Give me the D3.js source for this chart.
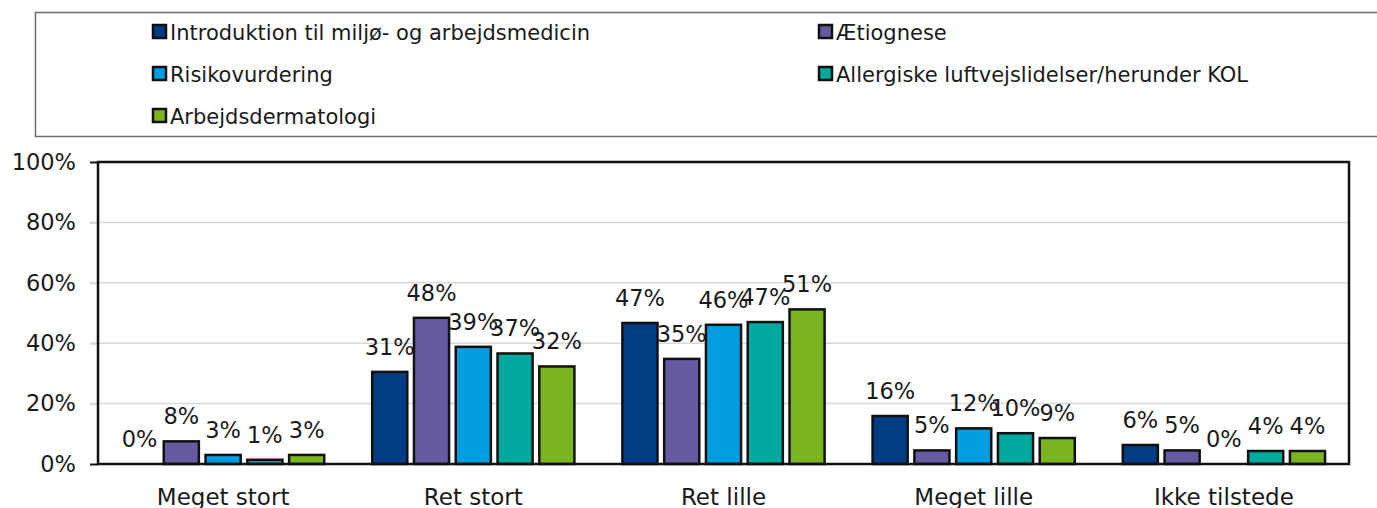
<!DOCTYPE html>
<html>
<head>
<meta charset="utf-8">
<script src="https://cdn.jsdelivr.net/npm/d3@7"></script>
<style>
  body { margin: 0; background: #fff; }
  svg text { font-family: "DejaVu Sans", sans-serif; fill: #1a1a1a; }
</style>
</head>
<body>
<div id="chart"></div>
<script>
// ------------------------- data
var categories = ["Meget stort", "Ret stort", "Ret lille", "Meget lille", "Ikke tilstede"];
var seriesNames = ["Introduktion til miljø- og arbejdsmedicin", "Ætiognese", "Risikovurdering",
    "Allergiske luftvejslidelser/herunder KOL", "Arbejdsdermatologi"];
var introduktion = [0, 30.5, 46.7, 15.9, 6.3];
var aetiognese = [7.5, 48.4, 34.8, 4.5, 4.5];
var risikovurdering = [3, 38.8, 46.1, 11.8, 0];
var allergiske = [1.4, 36.6, 47.0, 10.2, 4.3];
var dermatologi = [3, 32.3, 51.2, 8.6, 4.3];
var yTicks = [0, 20, 40, 60, 80, 100];

var seriesValues = [introduktion, aetiognese, risikovurdering, allergiske, dermatologi];
var colors = ["#003d85", "#665aa0", "#009ee0", "#00a99d", "#7ab41f"];

var svgWidth = 1377, svgHeight = 508;
var plotLeft = 98, plotRight = 1349, plotTop = 162, plotBottom = 464;

var svg = d3.select("#chart").append("svg")
    .attr("width", svgWidth)
    .attr("height", svgHeight);

// legend box
svg.append("rect")
    .attr("x", 35.5).attr("y", 12.5)
    .attr("width", 1400).attr("height", 124)
    .attr("fill", "none")
    .attr("stroke", "#6e6e6e")
    .attr("stroke-width", 1.5);

var legendPos = [[153, 32], [819, 32], [153, 74], [819, 74], [153, 116]];
seriesNames.forEach(function(name, i) {
    var g = svg.append("g").attr("transform", "translate(" + legendPos[i] + ")");
    g.append("rect")
        .attr("x", 0).attr("y", -7)
        .attr("width", 13).attr("height", 13)
        .attr("fill", colors[i])
        .attr("stroke", "#111").attr("stroke-width", 2.5);
    g.append("text")
        .attr("x", 17).attr("y", 7.5)
        .style("font-size", "21px")
        .text(name);
});

// scales
var x0 = d3.scaleBand().domain(categories).range([plotLeft, plotRight]).paddingInner(0.165).paddingOuter(0.0825);
var x1 = d3.scaleBand().domain(d3.range(5)).range([0, x0.bandwidth()]).paddingInner(0.16).paddingOuter(0.08);
var y = d3.scaleLinear().domain([0, 100]).range([plotBottom, plotTop]);

// gridlines
svg.append("g")
    .selectAll("line")
    .data(yTicks.filter(function(d) { return d > 0 && d < 100; }))
    .enter().append("line")
    .attr("x1", plotLeft - 8).attr("x2", plotRight)
    .attr("y1", function(d) { return y(d); })
    .attr("y2", function(d) { return y(d); })
    .attr("stroke", "#d9d9d9").attr("stroke-width", 1.5);

// y axis labels
var yAxis = svg.append("g")
    .attr("transform", "translate(" + plotLeft + ",0)")
    .call(d3.axisLeft(y).tickValues(yTicks).tickSize(8).tickPadding(14).tickFormat(function(d) { return d + "%"; }));
yAxis.select(".domain").remove();
yAxis.selectAll(".tick line")
    .attr("stroke", function(d) { return (d === 0 || d === 100) ? "#111" : "#d9d9d9"; })
    .attr("stroke-width", 2);
yAxis.selectAll("text")
    .style("font-size", "22.5px")
    .attr("fill", "#1a1a1a");

// bars
var groups = svg.append("g")
    .selectAll("g")
    .data(categories)
    .enter().append("g")
    .attr("transform", function(d) { return "translate(" + x0(d) + ",0)"; });

groups.selectAll("rect")
    .data(function(d, ci) { return seriesValues.map(function(s, si) { return { s: si, v: s[ci] }; }); })
    .enter().append("rect")
    .filter(function(d) { return d.v > 0; })
    .attr("x", function(d) { return x1(d.s); })
    .attr("y", function(d) { return y(d.v); })
    .attr("width", x1.bandwidth())
    .attr("height", function(d) { return plotBottom - y(d.v); })
    .attr("fill", function(d) { return colors[d.s]; })
    .attr("stroke", "#111")
    .attr("stroke-width", 2.5);

groups.selectAll("text.lbl")
    .data(function(d, ci) { return seriesValues.map(function(s, si) { return { s: si, v: s[ci] }; }); })
    .enter().append("text")
    .attr("class", "lbl")
    .attr("x", function(d) { return x1(d.s) + x1.bandwidth() / 2; })
    .attr("y", function(d) { return y(d.v) - 17; })
    .attr("text-anchor", "middle")
    .style("font-size", "22.5px")
    .text(function(d) { return Math.round(d.v) + "%"; });

// plot border
svg.append("rect")
    .attr("x", plotLeft).attr("y", plotTop)
    .attr("width", plotRight - plotLeft).attr("height", plotBottom - plotTop)
    .attr("fill", "none")
    .attr("stroke", "#111")
    .attr("stroke-width", 2.5);

// category labels
svg.append("g")
    .selectAll("text")
    .data(categories)
    .enter().append("text")
    .attr("x", function(d) { return x0(d) + x0.bandwidth() / 2; })
    .attr("y", 505)
    .attr("text-anchor", "middle")
    .style("font-size", "23px")
    .text(function(d) { return d; });
</script>
</body>
</html>
